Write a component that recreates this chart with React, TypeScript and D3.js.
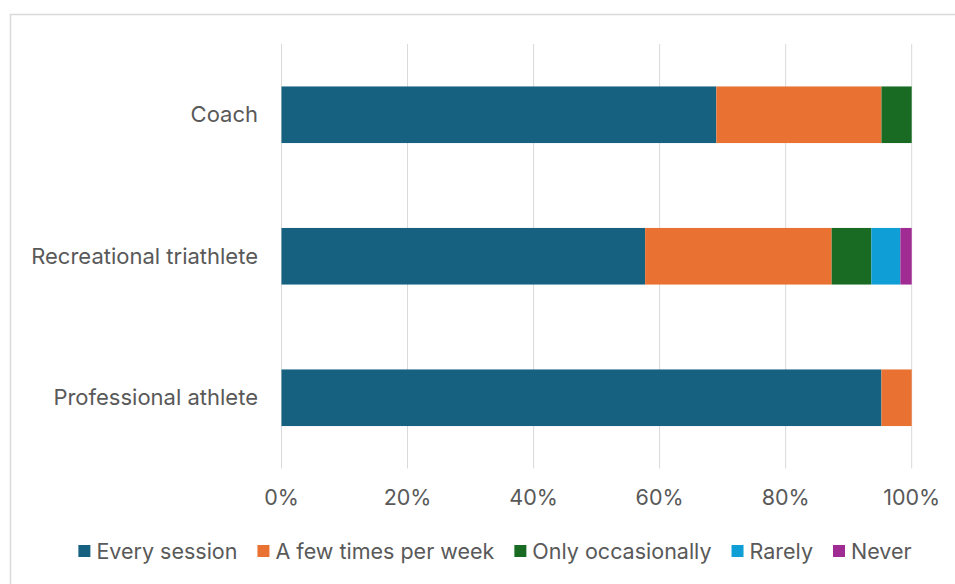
import React, { useEffect, useRef } from "react";
import * as d3 from "d3";

const categories = ["Coach", "Recreational triathlete", "Professional athlete"];
const seriesNames = ["Every session", "A few times per week", "Only occasionally", "Rarely", "Never"];
const colors = ["#176180", "#E97132", "#196B24", "#0F9ED5", "#A02B93"];
const everySession = [69.0, 57.7, 95.2];
const fewTimes = [26.2, 29.6, 4.8];
const occasionally = [4.8, 6.3, 0];
const rarely = [0, 4.6, 0];
const never = [0, 1.8, 0];
const tickValues = [0, 20, 40, 60, 80, 100];

const W = 955;
const H = 584;
const FONT = "Inter, 'Open Sans', sans-serif";
const TEXT = "#595959";

export default function App() {
  const ref = useRef<SVGSVGElement | null>(null);

  useEffect(() => {
    const svg = d3.select(ref.current);
    svg.selectAll("*").remove();

    const x = d3.scaleLinear().domain([0, 100]).range([281.5, 911.7]);
    const y = d3.scaleBand().domain(categories).range([44, 468.5]).paddingInner(0.6).paddingOuter(0.3);

    svg.append("rect").attr("x", 10.5).attr("y", 14.5).attr("width", W).attr("height", H)
      .attr("fill", "white").attr("stroke", "#d9d9d9").attr("stroke-width", 1.5);

    svg.append("g").selectAll("line").data(tickValues).join("line")
      .attr("x1", (d) => x(d)).attr("x2", (d) => x(d))
      .attr("y1", 44).attr("y2", 468.5)
      .attr("stroke", "#d9d9d9").attr("stroke-width", 1);

    const series = [everySession, fewTimes, occasionally, rarely, never];
    const rows = categories.map((c, i) => {
      const o: any = { cat: c };
      seriesNames.forEach((s, j) => (o[s] = series[j][i]));
      return o;
    });
    const stacked = d3.stack<any>().keys(seriesNames)(rows);

    svg.append("g").selectAll("g").data(stacked).join("g")
      .attr("fill", (_d, i) => colors[i])
      .selectAll("rect").data((d) => d).join("rect")
      .attr("x", (d) => x(d[0]))
      .attr("width", (d) => Math.max(0, x(d[1]) - x(d[0])))
      .attr("y", (d) => y(d.data.cat)!)
      .attr("height", y.bandwidth());

    svg.append("g").selectAll("text").data(categories).join("text")
      .attr("x", 258).attr("y", (d) => y(d)! + y.bandwidth() / 2)
      .attr("dy", "0.35em").attr("text-anchor", "end")
      .attr("font-family", FONT).attr("font-size", 22).attr("fill", TEXT)
      .text((d) => d);

    svg.append("g").selectAll("text").data(tickValues).join("text")
      .attr("x", (d) => x(d)).attr("y", 497).attr("dy", "0.35em")
      .attr("text-anchor", "middle")
      .attr("font-family", FONT).attr("font-size", 21.5).attr("fill", TEXT)
      .text((d) => d3.format(".0%")(d / 100));

    const lg = svg.append("g");
    const items = lg.selectAll("g").data(seriesNames).join("g");
    items.append("rect").attr("width", 12).attr("height", 12).attr("y", -6)
      .attr("fill", (_d, i) => colors[i]);
    const texts = items.append("text").attr("x", 18).attr("dy", "0.35em")
      .attr("font-family", FONT).attr("font-size", 21.5).attr("fill", TEXT)
      .text((d) => d);
    const widths: number[] = [];
    texts.each(function () { widths.push((this as SVGTextElement).getComputedTextLength()); });
    const gap = 20;
    const itemW = widths.map((w) => 18 + w);
    const total = d3.sum(itemW) + gap * (itemW.length - 1);
    let cx = 495 - total / 2;
    items.attr("transform", (_d, i) => {
      const t = `translate(${cx},551)`;
      cx += itemW[i] + gap;
      return t;
    });
  }, []);

  return (
    <svg ref={ref} width={W} height={H} style={{ display: "block", position: "absolute", left: 0, top: 0 }} />
  );
}
